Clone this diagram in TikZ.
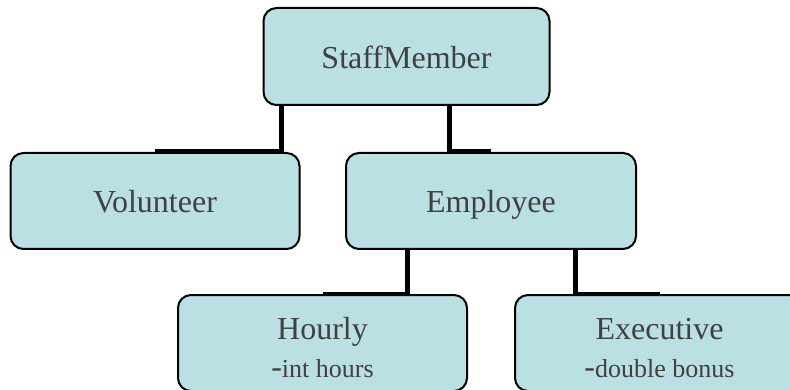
\documentclass[tikz,border=0pt]{standalone}
\usepackage{fontspec}
\setmainfont{Liberation Serif}
\usetikzlibrary{backgrounds,calc}
\definecolor{boxfill}{HTML}{BAE0E3}
\definecolor{boxtext}{HTML}{404040}
\tikzset{
  cls/.style={draw=black, line width=2pt, fill=boxfill, rounded corners=13pt,
    minimum width=289pt, minimum height=96pt, inner sep=0pt, text=boxtext,
    font=\fontsize{32}{38}\selectfont},
  oneline/.style={cls, text height=24pt, text depth=0pt},
  twoline/.style={cls, align=center},
  link/.style={line width=5pt, draw=black}
}
\newcommand{\subtxt}[1]{{\fontsize{26}{38}\selectfont #1}}
\begin{document}
\begin{tikzpicture}[x=1pt,y=-1pt]
\useasboundingbox (0,0) rectangle (790,390);
\node[oneline, minimum width=286pt, minimum height=97pt] (staff) at (406.5,56.5) {StaffMember};
\node[oneline] (vol) at (155,201) {Volunteer};
\node[oneline, minimum width=290pt] (emp) at (491,201) {Employee};
\node[twoline] (hourly) at (322.5,343) {\rule{0pt}{32pt}Hourly\\-\subtxt{int hours}};
\node[twoline] (exec) at (659.5,343) {\rule{0pt}{32pt}Executive\\-\subtxt{double bonus}};
\begin{scope}[on background layer]
  \draw[link] ($(staff.south)+(-125.5,0)$) |- (vol.north);
  \draw[link] ($(staff.south)+(43,0)$) |- (emp.north);
  \draw[link] ($(emp.south)+(-83.5,0)$) |- (hourly.north);
  \draw[link] ($(emp.south)+(84.5,0)$) |- (exec.north);
\end{scope}
\end{tikzpicture}
\end{document}
